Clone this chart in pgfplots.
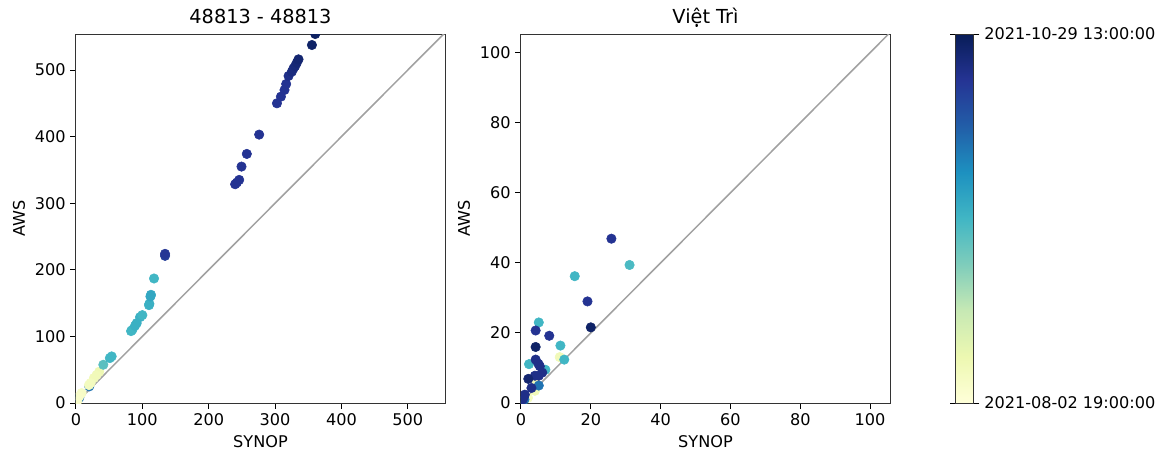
\documentclass[border=0pt]{standalone}
\usepackage{fontspec}
\setmainfont{DejaVu Sans}
\usepackage{pgfplots}
\pgfplotsset{compat=1.18}

\pgfplotsset{
  colormap={ylgnbu}{rgb255=(255,255,217) rgb255=(237,248,177) rgb255=(199,233,180)
    rgb255=(127,205,187) rgb255=(65,182,196) rgb255=(29,145,192)
    rgb255=(34,94,168) rgb255=(37,52,148) rgb255=(8,29,88)},
  mplstyle/.style={
    scale only axis, width=265.7pt, height=265.7pt,
    anchor=south west,
    tick align=outside, tick pos=left,
    major tick length=4pt,
    axis line style={line width=0.7pt, black!80},
    every tick/.style={black, line width=0.7pt},
    tick label style={font=\fontsize{11.6}{13}\selectfont},
    /pgf/number format/assume math mode=true,
    label style={font=\fontsize{11.6}{13}\selectfont},
    title style={font=\fontsize{13.9}{16}\selectfont, text height=10pt, text depth=0pt, yshift=-2pt},
    xlabel={SYNOP}, ylabel={AWS},
    colormap name=ylgnbu, point meta min=0, point meta max=1,
    clip marker paths=true,
  },
  dots/.style={scatter, only marks, mark=*, mark size=3.4pt,
    scatter src=explicit,
    scatter/use mapped color={draw=mapped color, fill=mapped color}},
}

\pgfplotstableread{
x y c
20 25 0.7
5 8 0.7
35 47 0.12
31 42 0.1
27 37.5 0.1
22 30 0.08
19.5 27 0.08
8.5 15 0.06
5 10 0.05
2 3 0.05
41.2 57.5 0.45
51 67.5 0.5
53.8 70 0.5
83 108 0.5
85 110 0.5
89 116 0.52
91.5 120 0.52
96.5 129 0.52
100 132 0.5
110 147 0.52
110.6 149 0.52
112.2 160 0.55
113 162.5 0.55
117.6 187 0.5
134.2 221 0.85
134.2 224 0.87
239.8 328.5 0.88
242.4 331 0.88
245.9 335 0.88
249.4 355 0.88
257.4 374 0.88
276 403 0.88
302.8 450 0.88
308.8 460 0.88
314.2 470 0.88
316.7 479 0.88
320.3 491 0.9
325.3 497.5 0.92
327.8 502.5 0.92
330.3 506 0.93
332.8 511 0.94
335.3 516 0.95
355.5 537.5 0.97
360.5 554 0.98
}\leftdata

\pgfplotstableread{
x y c
11.1 13.1 0.1
4.1 5.9 0.1
4 3.5 0.1
2 1.5 0.08
5.1 23 0.5
15.4 36.2 0.5
31.1 39.4 0.48
11.3 16.4 0.5
12.4 12.4 0.5
2.3 11.1 0.5
7 9.5 0.5
5.1 5 0.7
1 1 0.7
25.9 46.9 0.88
19.05 29 0.88
20 21.6 0.97
4.2 20.7 0.88
8.1 19.2 0.88
4.2 16 0.97
4.2 12.4 0.9
5 11.2 0.9
5.4 10.5 0.9
6.1 8.7 0.9
5.1 7.8 0.9
4 7.8 0.9
2.1 6.9 0.95
3 4.3 0.9
1.1 2.4 0.9
0.9 2 0.9
0.5 1 0.9
105.5 105.5 0.88
}\rightdata

\begin{document}
\begin{tikzpicture}
\useasboundingbox (0,0) rectangle (835.2pt,326.9pt);

\begin{axis}[mplstyle, at={(54.7pt,36.7pt)},
  title={48813 - 48813},
  xmin=0, xmax=556, ymin=0, ymax=554,
  xtick={0,100,...,500}, ytick={0,100,...,500}]
\addplot[color=black!37, line width=1.1pt, no marks] coordinates {(0,0) (556,556)};
\addplot[dots] table[x=x, y=y, meta=c] {\leftdata};
\end{axis}

\begin{axis}[mplstyle, at={(375.1pt,36.7pt)},
  title={Việt Trì},
  xmin=0, xmax=105.7, ymin=0, ymax=105.3,
  xtick={0,20,...,100}, ytick={0,20,...,100},
  colorbar,
  colorbar style={
    at={(parent axis.north east)}, anchor=north west, xshift=38.8pt,
    scale only axis, width=13pt, height=265.7pt,
    ytick={0,1},
    yticklabels={2021-08-02 19:00:00, 2021-10-29 13:00:00},
    yticklabel pos=right,
    tick align=outside, major tick length=4pt,
    axis line style={line width=0.7pt, black!80},
    every tick/.style={black, line width=0.7pt},
    yticklabel style={font=\fontsize{11.6}{13}\selectfont},
  }]
\addplot[color=black!37, line width=1.1pt, no marks] coordinates {(0,0) (106,106)};
\addplot[dots] table[x=x, y=y, meta=c] {\rightdata};
\end{axis}
\end{tikzpicture}
\end{document}
